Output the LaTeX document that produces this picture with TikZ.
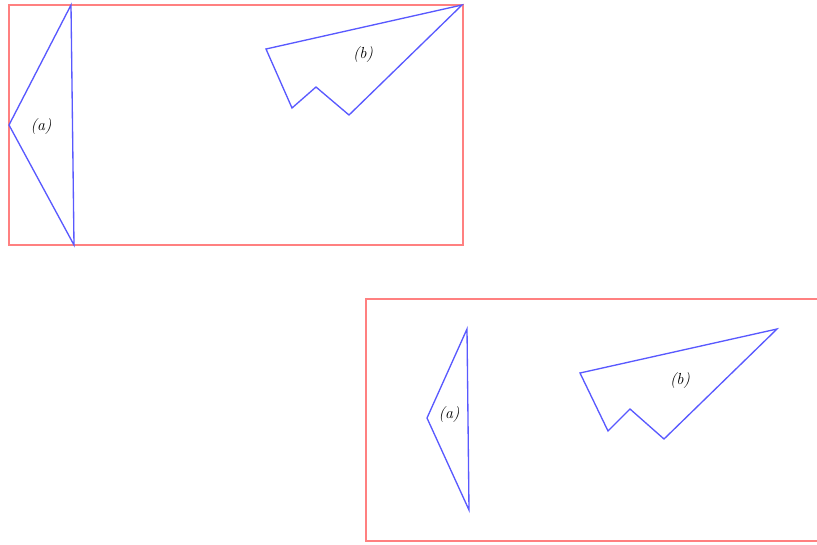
\documentclass[tikz,border=0pt]{standalone}
\usepackage{tikz}
\usepackage{xcolor}

\begin{document}
\begin{tikzpicture}[x=0.75pt, y=-0.75pt, line width=1pt, font=\large]
    \useasboundingbox (0,0) rectangle (817,544);

    % Upper frame
    \draw[red!50] (9,5) rectangle (463,245);

    % Upper triangle (a)
    \draw[blue!65] (71,5) -- (9,125) -- (74,245) -- cycle;
    \node (la1) at (41,127) {\textit{(a)}};

    % Upper polygon (b)
    \draw[blue!65] (462,5) -- (266,49) -- (292,108) -- (316,87) -- (349,115) -- cycle;
    \node (lb1) at (363,55) {\textit{(b)}};

    % Lower frame
    \draw[red!50] (366,299) rectangle (820,541);

    % Lower triangle (a)
    \draw[blue!65] (467,329) -- (427,418) -- (469,510) -- cycle;
    \node (la2) at (449,414) {\textit{(a)}};

    % Lower polygon (b)
    \draw[blue!65] (777,329) -- (580,373) -- (608,431) -- (630,409) -- (664,439) -- cycle;
    \node (lb2) at (680,380) {\textit{(b)}};
\end{tikzpicture}
\end{document}
